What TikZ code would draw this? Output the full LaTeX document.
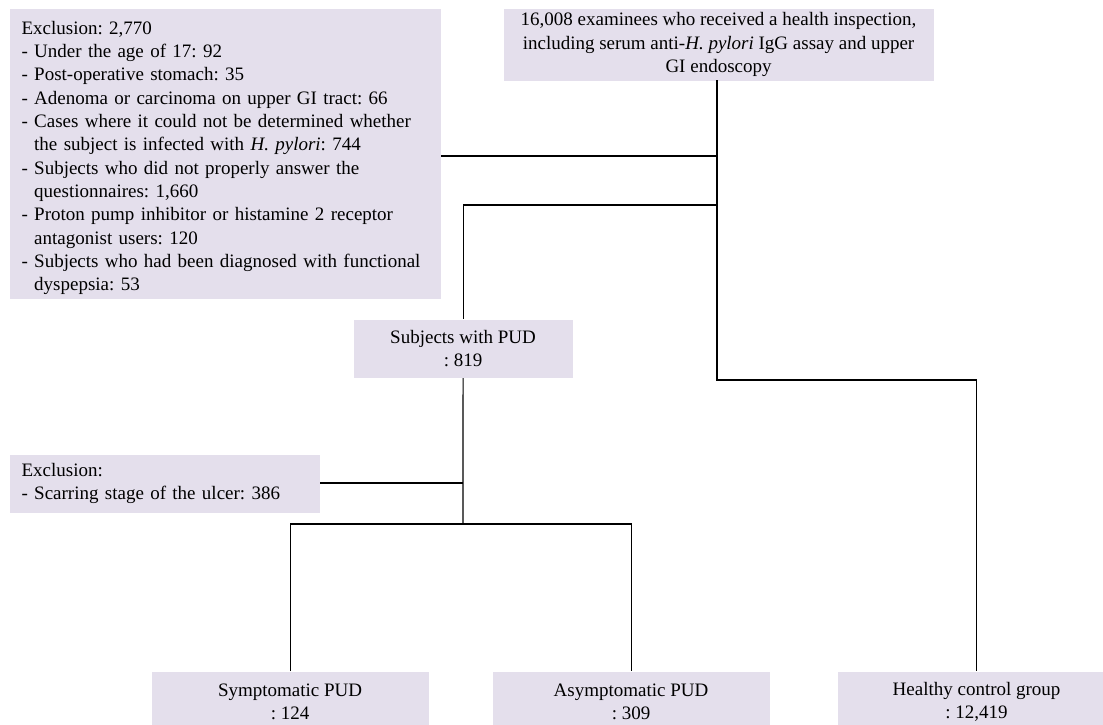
\documentclass[tikz,border=0pt]{standalone}
\usepackage{fontspec}
\setmainfont{Liberation Serif}
\usepackage{xcolor}
\definecolor{boxfill}{HTML}{E4DFEC}

\begin{document}
\frenchspacing
\begin{tikzpicture}[x=1pt,y=-1pt,line width=1.1pt,
  box/.style={fill=boxfill,inner sep=0pt,anchor=north west,font=\fontsize{19}{23.3}\selectfont}]
\useasboundingbox (0,0) rectangle (1103,724);
\clip (0,0) rectangle (1103,724);
\draw (9,8) node[box,minimum width=431,minimum height=290,text width=407,align=left] (excl) {\rule{0pt}{22pt}Exclusion: 2,770\\
- Under the age of 17: 92\\
- Post-operative stomach: 35\\
- Adenoma or carcinoma on upper GI tract: 66\\
- Cases where it could not be determined whether\\
\phantom{- }the subject is infected with \textit{H. pylori}: 744\\
- Subjects who did not properly answer the\\
\phantom{- }questionnaires: 1,660\\
- Proton pump inhibitor or histamine 2 receptor\\
\phantom{- }antagonist users: 120\\
- Subjects who had been diagnosed with functional\\
\phantom{- }dyspepsia: 53};
\draw (503,8) node[box,minimum width=430,minimum height=72,align=center] (exam) {16,008 examinees who received a health inspection,\\
including serum anti-\textit{H. pylori} IgG assay and upper\\
GI endoscopy};
\draw (353,319) node[box,minimum width=219,minimum height=58,align=center] (pud) {Subjects with PUD\\: 819};
\draw (9,454) node[box,minimum width=310,minimum height=58,text width=286,align=left] (scar) {Exclusion:\\- Scarring stage of the ulcer: 386};
\draw (151,671) node[box,minimum width=277,minimum height=60,align=center] (sym) {Symptomatic PUD\\: 124};
\draw (492,671) node[box,minimum width=277,minimum height=60,align=center] (asym) {Asymptomatic PUD\\: 309};
\draw (837,671) node[box,minimum width=278,minimum height=60,align=center] (ctrl) {Healthy control group\\: 12,419};
% junction points
\coordinate (t0) at (717,80);
\coordinate (t1) at (717,156);
\coordinate (t2) at (717,205);
\coordinate (t3) at (717,380);
\coordinate (p0) at (463,524);
\coordinate (p1) at (463,483);
\draw (t0) -- (t3) -| (ctrl.north);
\draw (excl.east |- t1) -- (t1);
\draw (t2) -| (pud.north);
\draw (pud.south) -- (p0);
\draw (scar.east |- p1) -- (p1);
\draw (sym.north) |- (p0) -| (asym.north);
\end{tikzpicture}
\end{document}
